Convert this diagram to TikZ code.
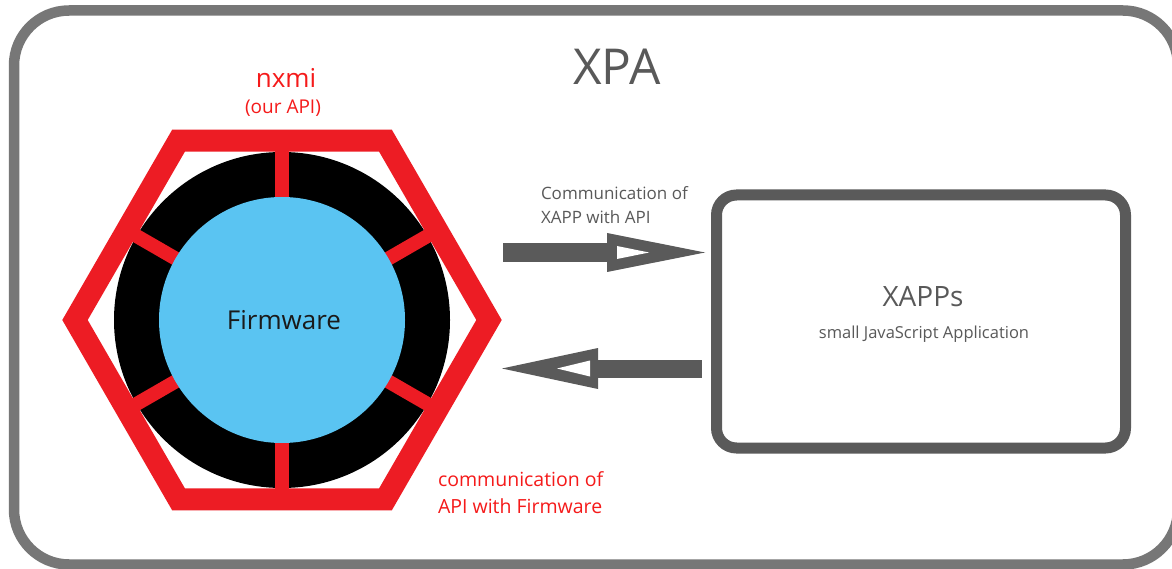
\documentclass[tikz,border=0pt]{standalone}
\usepackage{fontspec}
\setmainfont{Open Sans}
\definecolor{hexred}{HTML}{ED1C24}
\definecolor{txtred}{HTML}{F51A1A}
\definecolor{fwblue}{HTML}{5AC4F2}
\definecolor{framegray}{HTML}{777777}
\definecolor{boxgray}{HTML}{5A5A5A}
\definecolor{txtgray}{HTML}{595959}
\definecolor{fwtext}{HTML}{1A1A1A}
\tikzset{
  frame/.style={draw=framegray, line width=10.5pt, rounded corners=55pt},
  hexline/.style={draw=hexred, line width=22pt, line join=miter},
  spoke/.style={draw=hexred, line width=14pt},
  blockarrow/.style={fill=boxgray},
  hole/.style={fill=white},
  lbl/.style={inner sep=0pt, outer sep=0pt},
  appbox/.style={draw=boxgray, line width=11pt, rounded corners=20pt, inner sep=0pt,
    minimum width=409pt, minimum height=253pt},
}
\begin{document}
\begin{tikzpicture}[x=1pt,y=-1pt]
\useasboundingbox (0,0) rectangle (1172,569);
\fill[white] (0,0) rectangle (1172,569);
% outer frame
\draw[frame] (14,10.5) rectangle (1178,564.5);
% black ring, spokes, blue core
\fill[black] (282,320) circle[radius=168];
\foreach \a in {30,90,150,210,270,330}
  \draw[spoke, shift={(282,320)}] (\a:115) -- (\a:176);
\fill[fwblue] (282,320) circle[radius=123];
% hexagon
\draw[hexline, shift={(282,320)}] (0:207) -- (60:207) -- (120:207) -- (180:207) -- (240:207) -- (300:207) -- cycle;
% XAPPs box
\node[appbox] (xapps) at (921,321.5) {};
% arrows
\fill[blockarrow] (503,243) rectangle (607,262);
\fill[blockarrow] (607,233) -- (705,252.5) -- (607,272) -- cycle;
\fill[hole] (617,246) -- (649,252.5) -- (617,259) -- cycle;
\fill[blockarrow] (598,360) rectangle (702,378);
\fill[blockarrow] (598,348) -- (502,368.5) -- (598,389) -- cycle;
\fill[hole] (590,360.5) -- (557,368.5) -- (590,376.5) -- cycle;
% texts
\node[lbl, anchor=base, text=txtgray, font=\fontsize{49.5}{52}\selectfont] (xpa) at (617,85) {XPA};
\node[lbl, anchor=base, text=txtred, font=\fontsize{26}{30}\selectfont] (nxmi) at (286,88) {nxmi};
\node[lbl, anchor=base, text=txtred, font=\fontsize{19}{22}\selectfont] (ourapi) at (283,114) {(our API)};
\node[lbl, anchor=base, text=fwtext, font=\fontsize{26}{30}\selectfont] (fw) at (284,329) {Firmware};
\node[lbl, anchor=base west, align=left, text=txtred, font=\fontsize{19.5}{27}\selectfont] (apifw) at (438,513) {communication of\\API with Firmware};
\node[lbl, anchor=base west, align=left, text=txtgray, font=\fontsize{17}{24}\selectfont] (xappapi) at (541,224) {Communication of\\XAPP with API};
\node[lbl, anchor=base, text=txtgray, font=\fontsize{28}{32}\selectfont] (xappst) at (923,306) {XAPPs};
\node[lbl, anchor=base, text=txtgray, font=\fontsize{16.5}{20}\selectfont] (xappss) at (924,338) {small JavaScript Application};
\end{tikzpicture}
\end{document}
